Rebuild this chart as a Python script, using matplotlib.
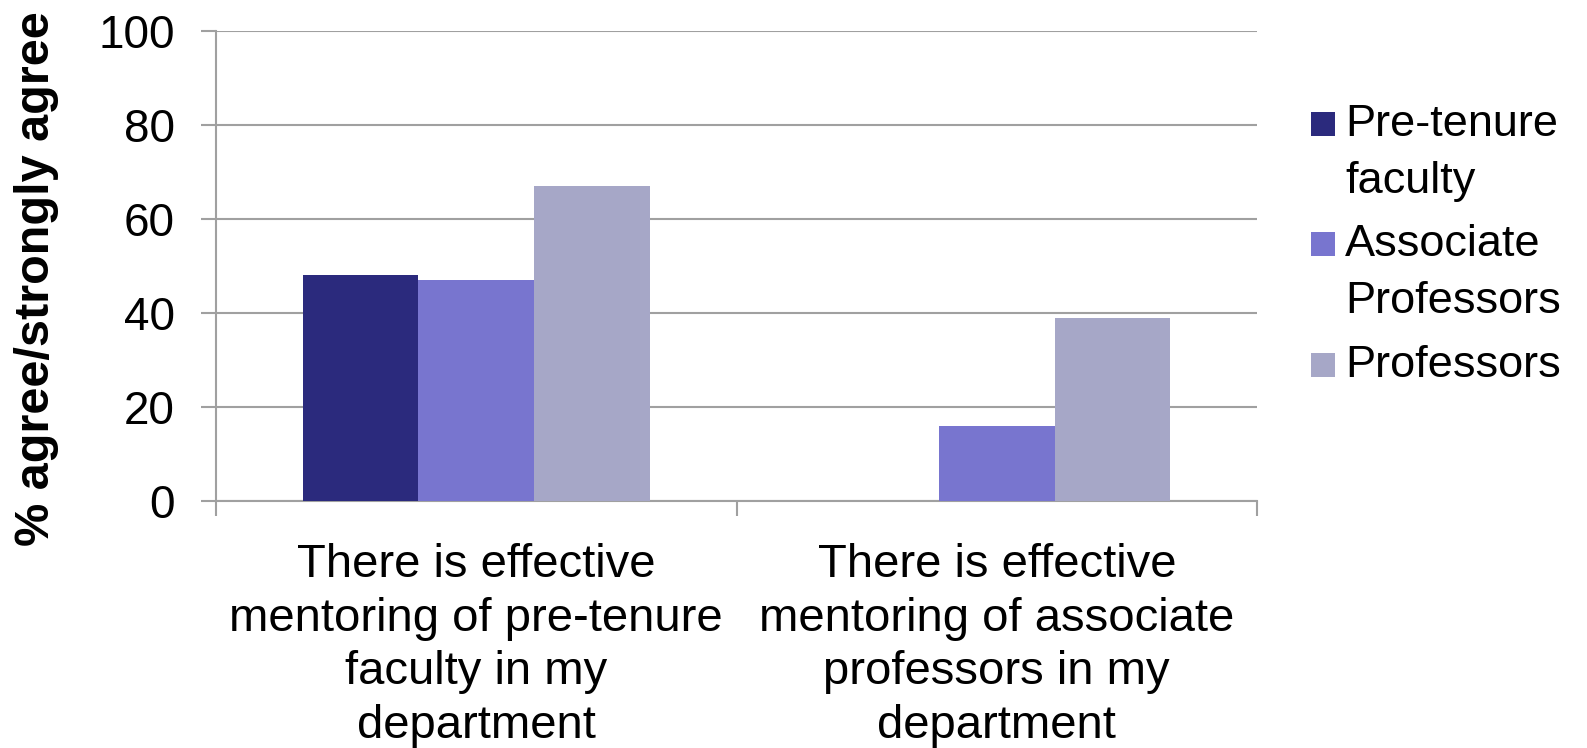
import matplotlib
matplotlib.use("Agg")
import matplotlib.pyplot as plt
from matplotlib.patches import Rectangle
from matplotlib.ticker import FixedLocator, NullFormatter
import numpy as np

plt.rcParams['font.family'] = ['Liberation Sans', 'DejaVu Sans']

categories = [
    "There is effective\nmentoring of pre-tenure\nfaculty in my\ndepartment",
    "There is effective\nmentoring of associate\nprofessors in my\ndepartment",
]
series_names = ["Pre-tenure\nfaculty", "Associate\nProfessors", "Professors"]
pre_tenure = [48, 0]
associate = [47, 16]
professors = [67, 39]
values = [pre_tenure, associate, professors]
colors = ["#2B2A7D", "#7875CF", "#A6A7C7"]
y_ticks = [0, 20, 40, 60, 80, 100]
y_label = "% agree/strongly agree"

W, H = 1587, 748
fig = plt.figure(figsize=(W / 100, H / 100), dpi=100)
fig.patch.set_facecolor("white")

L, R, T, B = 216, 1257, 31, 501
ax = fig.add_axes([L / W, 1 - B / H, (R - L) / W, (B - T) / H])

grey = "#A0A0A0"
x = np.arange(len(categories))
bw = 0.222
for i, (vals, col) in enumerate(zip(values, colors)):
    ax.bar(x + (i - 1) * bw, vals, width=bw, color=col, zorder=3, linewidth=0)

ax.set_xlim(-0.5, len(categories) - 0.5)
ax.set_ylim(0, 100)

ax.set_yticks(y_ticks)
ax.set_yticklabels([str(v) for v in y_ticks], fontsize=33)
ax.tick_params(axis="y", length=10.8, width=1.5, color=grey, pad=19, direction="out")

ax.xaxis.set_major_locator(FixedLocator(np.arange(len(categories) + 1) - 0.5))
ax.xaxis.set_major_formatter(NullFormatter())
ax.xaxis.set_minor_locator(FixedLocator(x))
ax.set_xticklabels(categories, minor=True, fontsize=34, linespacing=1.29)
ax.tick_params(axis="x", which="major", length=10.8, width=1.5, color=grey, direction="out")
ax.tick_params(axis="x", which="minor", length=0, pad=30)

ax.grid(axis="y", color=grey, linewidth=1.5, zorder=0)
ax.set_axisbelow(True)
for s in ["top", "right"]:
    ax.spines[s].set_visible(False)
for s in ["left", "bottom"]:
    ax.spines[s].set_color(grey)
    ax.spines[s].set_linewidth(1.5)

fig.text(37 / W, 1 - 279 / H, y_label, rotation=90, fontsize=35,
         fontweight="bold", ha="center", va="center")

# legend
sq = 24
sq_x = 1311
txt_x = 1345
line_h = 57
baselines = [136, 256, 377]
for name, col, base in zip(series_names, colors, baselines):
    fig.patches.append(Rectangle((sq_x / W, 1 - base / H), sq / W, sq / H,
                                 transform=fig.transFigure, facecolor=col,
                                 edgecolor="none"))
    for j, line in enumerate(name.split("\n")):
        fig.text(txt_x / W, 1 - (base + j * line_h) / H, line, fontsize=32.5,
                 ha="left", va="baseline")

fig.savefig("out.png", dpi=100, facecolor="white")
